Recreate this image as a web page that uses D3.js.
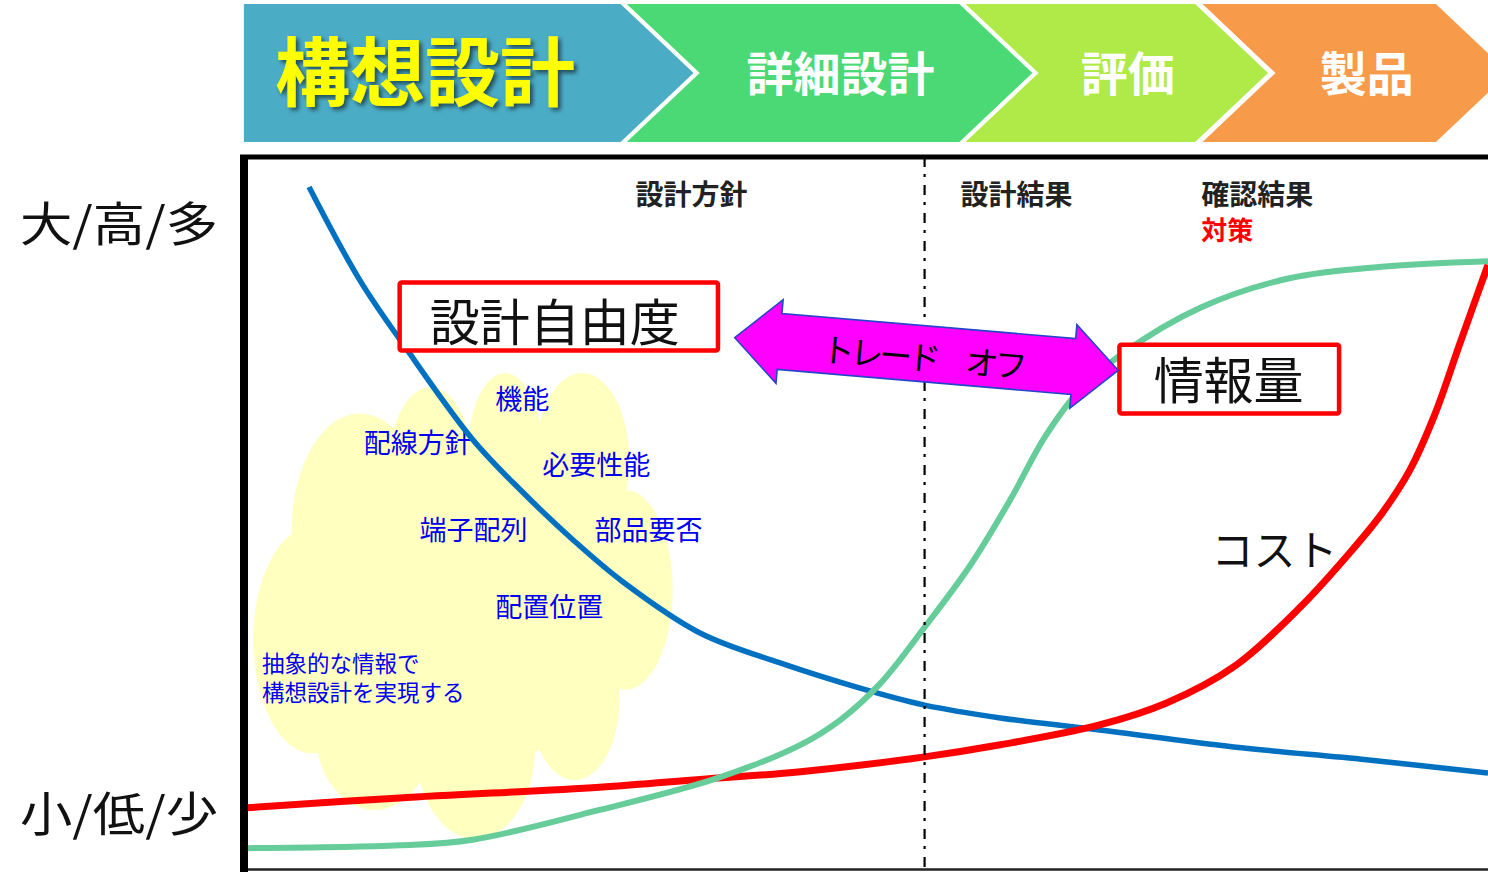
<!DOCTYPE html>
<html><head><meta charset="utf-8">
<script src="https://cdn.jsdelivr.net/npm/d3@7"></script>
<style>
html,body{margin:0;padding:0;background:#fff;overflow:hidden}
svg{display:block;font-family:"Noto Sans CJK JP","Noto Sans",sans-serif}
</style>
</head><body>
<svg id="c" width="1488" height="872"></svg>
<script>
// ---- data ----
const stages = ["構想設計","詳細設計","評価","製品"];
const stageStart = [-0.25, 30.6, 57.9, 77.0];
const stageEnd = [30.1, 57.4, 76.4, 95.8];
const stageColors = ["#4bacc6","#4ad974","#afea48","#f79a4a"];

const freedomX = [5.0, 9.1, 12.7, 18.2, 22.2, 26.3, 30.3, 36.5, 42.9, 49.4, 54.6, 60.7, 68.7, 79.5, 90.2, 100];
const freedomY = [96.2, 83.0, 73.7, 60.5, 53.1, 46.3, 40.4, 33.2, 29.0, 25.4, 23.0, 21.2, 19.5, 17.1, 15.3, 13.4];

const costX = [0, 12.3, 28.4, 36.5, 44.6, 54.6, 60.7, 68.7, 74.1, 79.5, 84.9, 88.9, 91.5, 93.7, 95.7, 97.7, 100];
const costY = [8.5, 9.9, 11.4, 12.5, 13.6, 15.7, 17.4, 20.2, 23.3, 28.4, 36.9, 44.6, 50.2, 56.2, 64.0, 73.9, 85.2];

const infoX = [0, 12.3, 18.2, 28.4, 37.9, 44.6, 47.8, 51.0, 54.6, 58.3, 61.5, 64.3, 67.1, 70.5, 76.9, 84.0, 91.2, 100];
const infoY = [2.8, 3.2, 4.0, 8.2, 12.7, 17.4, 20.9, 26.0, 34.0, 42.8, 52.0, 60.9, 67.5, 72.6, 79.2, 83.3, 84.9, 85.7];

const phaseNotes = ["設計方針","設計結果","確認結果"];
const phaseNoteX = [31.3, 57.5, 76.9];
const countermeasure = "対策";

const cloudItems = ["機能","配線方針","必要性能","端子配列","部品要否","配置位置"];
const cloudItemX = [20.0, 9.4, 23.8, 13.9, 28.0, 20.0];
const cloudItemY = [66.5, 60.2, 57.1, 48.0, 48.0, 37.1];
const cloudNote = ["抽象的な情報で","構想設計を実現する"];

const cloudCx = [5.3, 9.1, 14.8, 20.8, 27.0, 30.5, 26.4, 18.4, 10.3, 17.2];
const cloudCy = [32.2, 47.7, 54.8, 57.6, 57.6, 39.3, 23.7, 17.0, 19.5, 37.9];
const cloudRx = [4.8, 5.5, 3.6, 3.1, 3.8, 3.8, 3.6, 4.8, 4.8, 13.7];
const cloudRy = [16.0, 16.5, 13.1, 12.3, 12.3, 14.1, 11.3, 12.9, 11.3, 24.0];

const yLabels = ["大/高/多","小/低/少"];
const yLabelV = [91.4, 8.1];
const dividerX = 54.6;

// ---- scales ----
const svg = d3.select("#c");
const x = d3.scaleLinear().domain([0,100]).range([247,1488]);
const y = d3.scaleLinear().domain([0,100]).range([868,160]);
const FONT = '"Noto Sans CJK JP","Noto Sans",sans-serif';

const defs = svg.append("defs");
const f = defs.append("filter").attr("id","sh").attr("x","-10%").attr("y","-20%").attr("width","130%").attr("height","150%");
f.append("feDropShadow").attr("dx",3).attr("dy",3).attr("stdDeviation",2).attr("flood-color","#000").attr("flood-opacity",0.55);

// ---- header chevrons ----
const TOP = 4, BOT = 142, MID = 73, DEPTH = 73;
const hdr = svg.append("g");
stages.forEach((s,i)=>{
  const a = x(stageStart[i]), b = x(stageEnd[i]);
  const pts = [[a,TOP],[b,TOP],[b+DEPTH,MID],[b,BOT],[a,BOT]];
  if (i>0) pts.push([a+DEPTH,MID]);
  hdr.append("polygon").attr("points",pts.map(p=>p.join(",")).join(" ")).attr("fill",stageColors[i]);
  if (i===0){
    hdr.append("text").attr("x",a+31).attr("y",MID-6).attr("dominant-baseline","central")
      .attr("font-size",75).attr("font-weight",700).attr("fill","#ffff00").attr("filter","url(#sh)")
      .attr("font-family",FONT).text(s);
  } else {
    hdr.append("text").attr("x",(a+DEPTH+b)/2+11).attr("y",MID-3).attr("dominant-baseline","central")
      .attr("text-anchor","middle").attr("font-size",47).attr("font-weight",700).attr("fill","#fff")
      .attr("font-family",FONT).text(s);
  }
});

// ---- y labels ----
yLabels.forEach((t,i)=>{
  svg.append("text").attr("x",20).attr("y",y(yLabelV[i])).attr("dominant-baseline","central")
    .attr("font-size",47).attr("fill","#111").attr("textLength",198).attr("lengthAdjust","spacingAndGlyphs")
    .attr("font-family",FONT).text(t);
});

// ---- cloud ----
const cloud = svg.append("g");
cloudCx.forEach((cx,i)=>{
  cloud.append("ellipse").attr("cx",x(cx)).attr("cy",y(cloudCy[i]))
    .attr("rx",x(cloudRx[i])-x(0)).attr("ry",y(0)-y(cloudRy[i])).attr("fill","#ffffbf");
});
cloudItems.forEach((t,i)=>{
  cloud.append("text").attr("x",x(cloudItemX[i])).attr("y",y(cloudItemY[i])).attr("dominant-baseline","central")
    .attr("font-size",27).attr("fill","#0000ee").attr("font-family",FONT).text(t);
});
cloudNote.forEach((t,i)=>{
  cloud.append("text").attr("x",x(1.2)).attr("y",y(29.1 - i*4.1)).attr("dominant-baseline","central")
    .attr("font-size",22.5).attr("fill","#0000ee").attr("font-family",FONT).text(t);
});

// ---- curves ----
const line = d3.line().x(d=>x(d[0])).y(d=>y(d[1])).curve(d3.curveCatmullRom.alpha(0.5));
const series = [
  {xs: freedomX, ys: freedomY, color:"#0070c0", w:5.5},
  {xs: costX, ys: costY, color:"#ff0000", w:7},
  {xs: infoX, ys: infoY, color:"#66cc99", w:6}
];
series.forEach(s=>{
  svg.append("path").attr("d",line(s.xs.map((v,i)=>[v,s.ys[i]])))
    .attr("fill","none").attr("stroke",s.color).attr("stroke-width",s.w).attr("stroke-linecap","butt");
});

// ---- divider ----
svg.append("line").attr("x1",x(dividerX)).attr("x2",x(dividerX)).attr("y1",157).attr("y2",869)
  .attr("stroke","#000").attr("stroke-width",2.2).attr("stroke-dasharray","10,7,3,8");

// ---- frame ----
svg.append("line").attr("x1",240).attr("x2",1488).attr("y1",157).attr("y2",157).attr("stroke","#000").attr("stroke-width",5);
svg.append("line").attr("x1",244).attr("x2",1488).attr("y1",869.5).attr("y2",869.5).attr("stroke","#222").attr("stroke-width",2.5);
svg.append("line").attr("x1",244).attr("x2",244).attr("y1",155).attr("y2",872).attr("stroke","#000").attr("stroke-width",8);

// ---- phase notes ----
phaseNotes.forEach((t,i)=>{
  svg.append("text").attr("x",x(phaseNoteX[i])).attr("y",y(95.3)).attr("dominant-baseline","central")
    .attr("font-size",28).attr("font-weight",700).attr("fill","#222").attr("font-family",FONT).text(t);
});
svg.append("text").attr("x",x(phaseNoteX[2])).attr("y",y(90.3)).attr("dominant-baseline","central")
  .attr("font-size",26).attr("font-weight",700).attr("fill","#ff0000").attr("font-family",FONT).text(countermeasure);

// ---- labelled boxes ----
function box(x1,x2,y1,y2,label,tx,ty){
  svg.append("rect").attr("x",x(x1)).attr("y",y(y1)).attr("width",x(x2)-x(x1)).attr("height",y(y2)-y(y1))
    .attr("rx",2).attr("fill","#fff").attr("stroke","#ff0000").attr("stroke-width",4.5);
  svg.append("text").attr("x",x(tx)).attr("y",y(ty)).attr("text-anchor","middle").attr("dominant-baseline","central")
    .attr("font-size",50).attr("fill","#111").attr("font-family",FONT).text(label);
}
box(12.3,37.95,82.7,73.1,"設計自由度",24.8,77.6);
box(70.3,88.0,73.9,64.2,"情報量",79.1,69.3);

// ---- trade-off double arrow ----
const P1 = [x(39.3), y(74.9)], P2 = [x(70.2), y(70.3)];
const L = Math.hypot(P2[0]-P1[0], P2[1]-P1[1]);
const u = [(P2[0]-P1[0])/L, (P2[1]-P1[1])/L];
const n = [u[1], -u[0]];
const H = 45, bh = 28, hh = 42;
const pt = (P,a,b)=>[P[0]+u[0]*a+n[0]*b, P[1]+u[1]*a+n[1]*b];
const arrowPts = [P1, pt(P1,H,hh), pt(P1,H,bh), pt(P2,-H,bh), pt(P2,-H,hh), P2,
  pt(P2,-H,-hh), pt(P2,-H,-bh), pt(P1,H,-bh), pt(P1,H,-hh)];
svg.append("polygon").attr("points",arrowPts.map(p=>p.join(",")).join(" "))
  .attr("fill","#ff00ff").attr("stroke","#2346c8").attr("stroke-width",1.6).attr("stroke-linejoin","miter");
const ang = Math.atan2(u[1],u[0])*180/Math.PI;
const tc = [x(54.6), y(72.3)];
svg.append("text").attr("transform",`translate(${tc[0]},${tc[1]}) rotate(${ang})`)
  .attr("text-anchor","middle").attr("dominant-baseline","central")
  .attr("font-size",33).attr("fill","#000").attr("font-family",FONT)
  .attr("textLength",206).attr("lengthAdjust","spacing").text("トレード　オフ");

// ---- cost label ----
svg.append("text").attr("x",x(82.8)).attr("y",y(45.3)).attr("text-anchor","middle").attr("dominant-baseline","central")
  .attr("font-size",42).attr("fill","#111").attr("font-family",FONT).text("コスト");
</script>
</body></html>
